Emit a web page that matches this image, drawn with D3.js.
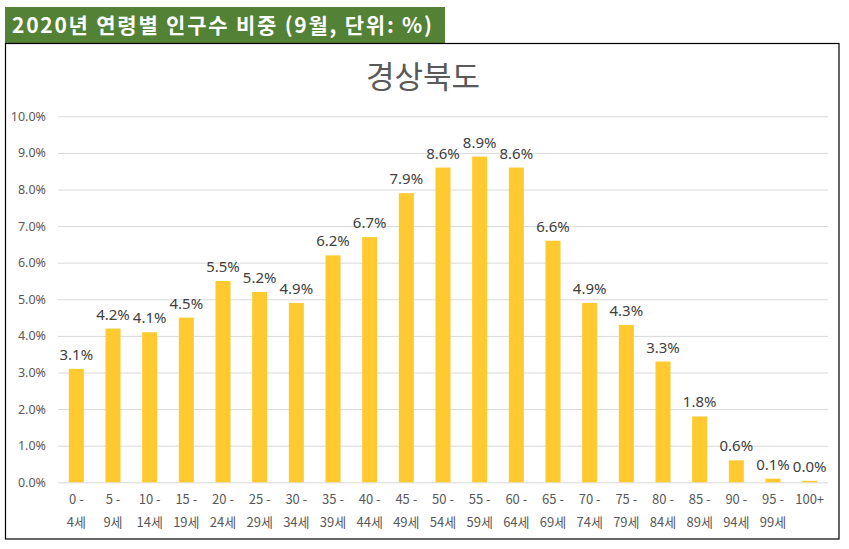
<!DOCTYPE html>
<html>
<head>
<meta charset="utf-8">
<script src="https://cdn.jsdelivr.net/npm/d3@7/dist/d3.min.js"></script>
<style>
  body { margin: 0; background: #fff; }
  svg { display: block; font-family: "Noto Sans CJK KR", "Noto Sans", sans-serif; }
</style>
</head>
<body>
<div id="chart"></div>
<script>
// --- Data ---
const ageTop = ["0 -", "5 -", "10 -", "15 -", "20 -", "25 -", "30 -", "35 -", "40 -", "45 -", "50 -",
                "55 -", "60 -", "65 -", "70 -", "75 -", "80 -", "85 -", "90 -", "95 -", "100+"];
const ageBottom = ["4세", "9세", "14세", "19세", "24세", "29세", "34세", "39세", "44세", "49세", "54세",
                   "59세", "64세", "69세", "74세", "79세", "84세", "89세", "94세", "99세", ""];
const shares = [3.1, 4.2, 4.1, 4.5, 5.5, 5.2, 4.9, 6.2, 6.7, 7.9, 8.6, 8.9, 8.6, 6.6, 4.9, 4.3, 3.3, 1.8, 0.6, 0.1, 0.04];
const yTicks = [0, 1, 2, 3, 4, 5, 6, 7, 8, 9, 10];

const headerText = "2020년 연령별 인구수 비중 (9월, 단위: %)";
const chartTitle = "경상북도";

// --- Setup ---
const width = 849, height = 549;
const plot = { left: 58, right: 828, top: 116.3, bottom: 482.3 };

const svg = d3.select("#chart").append("svg")
    .attr("width", width)
    .attr("height", height);

// header box
svg.append("rect")
    .attr("x", 5).attr("y", 7)
    .attr("width", 440).attr("height", 36)
    .attr("fill", "#538135");
svg.append("text")
    .attr("x", 12).attr("y", 33)
    .attr("fill", "#fff")
    .attr("font-size", 21)
    .attr("font-weight", "bold")
    .attr("textLength", 420)
    .attr("lengthAdjust", "spacing")
    .text(headerText);

// chart frame
svg.append("rect")
    .attr("x", 5.5).attr("y", 43.5)
    .attr("width", 833.5).attr("height", 495.5)
    .attr("fill", "#fff")
    .attr("stroke", "#000")
    .attr("stroke-width", 1.2);

svg.append("text")
    .attr("x", 423).attr("y", 88)
    .attr("text-anchor", "middle")
    .attr("fill", "#595959")
    .attr("font-size", 31)
    .text(chartTitle);

// scales
const x = d3.scaleBand()
    .domain(d3.range(shares.length))
    .range([plot.left, plot.right])
    .paddingInner(0.59)
    .paddingOuter(0.295);

const y = d3.scaleLinear()
    .domain([0, 10])
    .range([plot.bottom, plot.top]);

// gridlines
const yAxis = d3.axisLeft(y)
    .tickValues(yTicks)
    .tickSize(-(plot.right - plot.left))
    .tickPadding(12)
    .tickFormat(d => d.toFixed(1) + "%");

const gy = svg.append("g")
    .attr("transform", `translate(${plot.left},0)`)
    .call(yAxis);
gy.select(".domain").remove();
gy.selectAll(".tick line").attr("stroke", "#d9d9d9").attr("stroke-width", 1);
gy.selectAll(".tick text")
    .attr("fill", "#595959")
    .attr("font-size", 12.5)
    .attr("font-family", "'Noto Sans', sans-serif");

// bars
svg.append("g").selectAll("rect")
    .data(shares)
    .join("rect")
    .attr("x", (d, i) => x(i))
    .attr("y", d => y(d))
    .attr("width", x.bandwidth())
    .attr("height", d => y(0) - y(d))
    .attr("fill", "#FFCA30");

// value labels
svg.append("g").selectAll("text")
    .data(shares)
    .join("text")
    .attr("x", (d, i) => x(i) + x.bandwidth() / 2)
    .attr("y", d => y(d) - 9)
    .attr("text-anchor", "middle")
    .attr("fill", "#404040")
    .attr("font-size", 15)
    .attr("font-family", "'Noto Sans', sans-serif")
    .text(d => d.toFixed(1) + "%");

// x labels (two lines)
const xl = svg.append("g").selectAll("text")
    .data(shares)
    .join("text")
    .attr("text-anchor", "middle")
    .attr("fill", "#595959")
    .attr("font-size", 13);
xl.append("tspan")
    .attr("x", (d, i) => x(i) + x.bandwidth() / 2)
    .attr("y", 504)
    .text((d, i) => ageTop[i]);
xl.append("tspan")
    .attr("x", (d, i) => x(i) + x.bandwidth() / 2)
    .attr("y", 527)
    .text((d, i) => ageBottom[i]);
</script>
</body>
</html>
